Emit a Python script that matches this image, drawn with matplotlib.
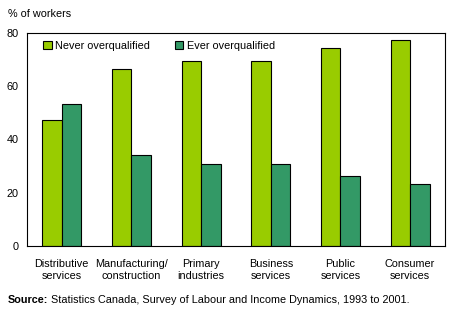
import numpy as np
import matplotlib.pyplot as plt

# Categories and values
categories = [
    "Distributive\nservices",
    "Manufacturing/\nconstruction",
    "Primary\nindustries",
    "Business\nservices",
    "Public\nservices",
    "Consumer\nservices",
]
never_overqualified = [47.3, 66.5, 69.6, 69.6, 74.4, 77.3]
ever_overqualified = [53.4, 34.2, 30.8, 30.8, 26.2, 23.2]
yticks = [0, 20, 40, 60, 80]

plt.rcParams["font.family"] = ["Liberation Sans", "DejaVu Sans"]

fig = plt.figure(figsize=(4.49, 3.22), dpi=100)
ax = fig.add_axes([0.060, 0.236, 0.931, 0.662])

x = np.arange(len(categories))
bar_width = 0.28

ax.bar(x - bar_width / 2, never_overqualified, width=bar_width,
       color="#99cc00", edgecolor="black", linewidth=0.8,
       label="Never overqualified")
ax.bar(x + bar_width / 2, ever_overqualified, width=bar_width,
       color="#339966", edgecolor="black", linewidth=0.8,
       label="Ever overqualified")

ax.set_xlim(-0.5, len(categories) - 0.5)
ax.set_ylim(0, 80)
ax.set_yticks(yticks)
ax.set_xticks(x)
ax.set_xticklabels(categories, fontsize=7.8, linespacing=1.35)
ax.tick_params(axis="x", length=0, labelsize=7.8, pad=9)
ax.tick_params(axis="y", length=0, labelsize=7.8, pad=6)
for spine in ax.spines.values():
    spine.set_linewidth(0.8)

ax.legend(ncol=2, loc="upper left", bbox_to_anchor=(0.02, 1.0),
          frameon=False, fontsize=7.8, handlelength=0.75,
          handleheight=0.75, handletextpad=0.35, columnspacing=2.3,
          borderaxespad=0.35)

fig.text(0.018, 0.958, "% of workers", fontsize=7.8, va="center")

src = fig.text(0.018, 0.068, "Source:", fontsize=7.8, fontweight="bold",
               va="center")
fig.canvas.draw()
bb = src.get_window_extent().transformed(fig.transFigure.inverted())
fig.text(bb.x1 + 0.006, 0.068,
         "Statistics Canada, Survey of Labour and Income Dynamics, 1993 to 2001.",
         fontsize=7.8, va="center")

plt.savefig("out.png", dpi=100)
